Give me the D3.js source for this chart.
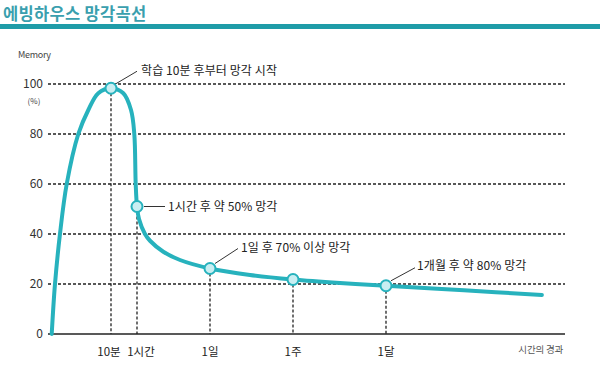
<!DOCTYPE html>
<html><head><meta charset="utf-8">
<script src="https://cdn.jsdelivr.net/npm/d3@7"></script>
<style>body{margin:0;background:#fff;} svg{display:block;font-family:"Noto Sans CJK KR","Noto Sans",sans-serif;}</style>
</head><body>
<script>
// --- data ---
const title = "에빙하우스 망각곡선";
const curveTimes  = [0.59, 1.11, 1.9, 2.97, 4.81, 6.4, 7.98, 10, 33.7, 48.5, 54.8, 57.5, 60, 98, 211, 306, 557, 873, 1440, 5600, 10080, 26800, 43200, 64800, 86400];
const curveValues = [0, 20, 40, 60, 80, 89.6, 96.3, 98.3, 96.3, 89.6, 80, 60, 51, 46, 40, 37.3, 32.9, 29.6, 26.2, 23.6, 21.8, 20.4, 19.3, 17.5, 15.6];
const tickTimes  = [10, 60, 1440, 10080, 43200];
const tickLabels = ["10분", "1시간", "1일", "1주", "1달"];
const pointValues = [98.3, 51, 26.2, 21.8, 19.3];
const annotationTexts = ["학습 10분 후부터 망각 시작", "1시간 후 약 50% 망각", "1일 후 70% 이상 망각", null, "1개월 후 약 80% 망각"];
const yTicks = [0, 20, 40, 60, 80, 100];

const W = 600, H = 366;
const svg = d3.select("body").append("svg").attr("width", W).attr("height", H);

// time (minutes) -> piecewise position on the chart
const x = d3.scaleLinear()
  .domain([0, 10, 60, 1440, 10080, 43200, 92800])
  .range([48, 111, 137, 210, 293, 386, 565]);
const y = d3.scaleLinear().domain([0, 100]).range([334, 84]);

// title + bar
svg.append("text").attr("x", 3).attr("y", 20).text(title)
  .attr("font-size", 16.5).attr("font-weight", 700).attr("fill", "#3a9fae").attr("letter-spacing", 0.3);
svg.append("rect").attr("x", 0).attr("y", 24).attr("width", W).attr("height", 5).attr("fill", "#1f9ca8");

const x0 = x.range()[0], x1 = x.range()[x.range().length - 1];

// horizontal grid
svg.append("g").selectAll("line").data(yTicks.filter(d => d > 0)).join("line")
  .attr("x1", x0).attr("x2", x1).attr("y1", d => y(d)).attr("y2", d => y(d))
  .attr("stroke", "#222").attr("stroke-width", 1.3).attr("stroke-dasharray", "3,2");

// y labels
svg.append("g").selectAll("text").data(yTicks).join("text")
  .attr("x", 43).attr("y", d => y(d)).attr("dy", "0.35em").attr("text-anchor", "end")
  .attr("font-size", 12).attr("fill", "#333").text(d => d);
svg.append("text").attr("x", 18).attr("y", 58).text("Memory").attr("font-size", 9).attr("fill", "#444").attr("letter-spacing", -0.3);
svg.append("text").attr("x", 34).attr("y", 104).attr("text-anchor", "middle").text("(%)").attr("font-size", 8).attr("fill", "#444");

// vertical dashed lines from points
svg.append("g").selectAll("line").data(tickTimes).join("line")
  .attr("x1", d => x(d)).attr("x2", d => x(d))
  .attr("y1", (d, i) => y(pointValues[i])).attr("y2", y(0))
  .attr("stroke", "#222").attr("stroke-width", 1.3).attr("stroke-dasharray", "3,2");

// baseline
svg.append("line").attr("x1", x0).attr("x2", x1).attr("y1", y(0)).attr("y2", y(0))
  .attr("stroke", "#222").attr("stroke-width", 1.5);

// x labels
const labelDx = [-2, 4, 0, 0, 0];
svg.append("g").selectAll("text").data(tickTimes).join("text")
  .attr("x", (d, i) => x(d) + labelDx[i]).attr("y", 356).attr("text-anchor", "middle")
  .attr("font-size", 11.5).attr("fill", "#222").text((d, i) => tickLabels[i]);
svg.append("text").attr("x", 563).attr("y", 353).attr("text-anchor", "end")
  .attr("font-size", 9.5).attr("fill", "#555").attr("letter-spacing", -0.2).text("시간의 경과");

// curve
const pts = curveTimes.map((t, i) => [x(t), y(curveValues[i])]);
svg.append("path").datum(pts)
  .attr("d", d3.line().curve(d3.curveCatmullRom.alpha(0.5)))
  .attr("fill", "none").attr("stroke", "#27b2bd").attr("stroke-width", 4).attr("stroke-linecap", "round");

// annotations (leader lines + text)
const leaders = [
  {dx1: 4, dy1: -4, dx2: 26, dy2: -17, tx: 30, ty: -17},
  {dx1: 7, dy1: 0, dx2: 28, dy2: 0, tx: 31, ty: 0},
  {dx1: 5, dy1: -5, dx2: 28, dy2: -20, tx: 31, ty: -21},
  null,
  {dx1: 5, dy1: -5, dx2: 29, dy2: -18, tx: 31, ty: -20}
];
tickTimes.forEach((t, i) => {
  if (!annotationTexts[i]) return;
  const px = x(t), py = y(pointValues[i]), L = leaders[i];
  svg.append("line").attr("x1", px + L.dx1).attr("y1", py + L.dy1).attr("x2", px + L.dx2).attr("y2", py + L.dy2)
    .attr("stroke", "#333").attr("stroke-width", 1);
  svg.append("text").attr("x", px + L.tx).attr("y", py + L.ty).attr("dy", "0.35em")
    .attr("font-size", 12).attr("fill", "#222").attr("letter-spacing", 0.1).text(annotationTexts[i]);
});

// point markers
svg.append("g").selectAll("circle").data(tickTimes).join("circle")
  .attr("cx", d => x(d)).attr("cy", (d, i) => y(pointValues[i])).attr("r", 5.5)
  .attr("fill", "#c9eef2").attr("stroke", "#27b2bd").attr("stroke-width", 2);
</script>
</body></html>
